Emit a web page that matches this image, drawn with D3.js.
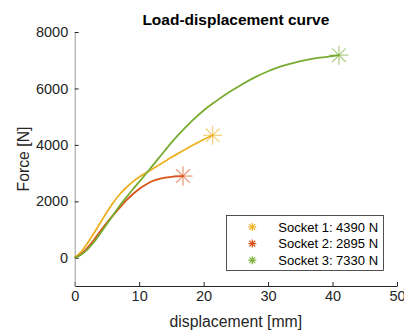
<!DOCTYPE html>
<html>
<head>
<meta charset="utf-8">
<script src="https://cdn.jsdelivr.net/npm/d3@7"></script>
<style>
body{margin:0;background:#fff;}
svg{display:block;font-family:"Liberation Sans",Arial,sans-serif;}
</style>
</head>
<body>
<svg id="chart" width="404" height="331"></svg>
<script>
// data
const socket1=[[0,0],[1,210],[2,520],[3,880],[4,1250],[5,1620],[6,1960],[7,2250],[8,2490],[9,2690],[10,2860],[11,3000],[12,3140],[13,3280],[14,3420],[15,3560],[16,3690],[17,3820],[18,3950],[19,4070],[20,4190],[21.4,4340]]
const socket2=[[0,0],[1,130],[2,360],[3,640],[4,950],[5,1250],[6,1520],[7,1780],[8,2030],[9,2250],[10,2440],[11,2590],[12,2710],[13,2790],[14,2840],[15,2870],[16,2885],[16.8,2895]]
const socket3=[[0,0],[1,110],[2,300],[3,560],[4,870],[5,1200],[6,1520],[7,1850],[8,2140],[9,2420],[10,2690],[11,2960],[12,3240],[13,3520],[14,3800],[15,4080],[16,4340],[17,4580],[18,4810],[19,5020],[20,5220],[22,5560],[24,5870],[26,6150],[28,6400],[30,6610],[32,6780],[34,6910],[36,7010],[38,7090],[40,7150],[41,7180]]
const legendLabels=['Socket 1: 4390 N','Socket 2: 2895 N','Socket 3: 7330 N']
const colors=['#EDB120','#D95319','#77AC30']
const xTicks=[0,10,20,30,40,50]
const yTicks=[0,2000,4000,6000,8000]

const series=[socket1,socket2,socket3]

const svg=d3.select('#chart')
const plot={left:74.7,right:397,top:32,bottom:286}

const x=d3.scaleLinear().domain([0,50]).range([plot.left,plot.right])
const y=d3.scaleLinear().domain([-1000,8000]).range([plot.bottom,plot.top])

// title
svg.append('text')
    .attr('x',(plot.left+plot.right)/2)
    .attr('y',24.5)
    .attr('text-anchor','middle')
    .attr('font-weight','bold')
    .attr('font-size',15.5)
    .attr('fill','#000')
    .text('Load-displacement curve')

// axes
const xAxis=d3.axisBottom(x).tickValues(xTicks).tickFormat(d3.format('d')).tickSizeInner(-4).tickSizeOuter(0).tickPadding(5)
const gx=svg.append('g').attr('transform',`translate(0,${plot.bottom})`).call(xAxis)
gx.select('.domain').attr('stroke','#262626')
gx.selectAll('.tick line').attr('stroke','#262626')
gx.selectAll('text').attr('font-size',14.5).attr('fill','#262626').attr('font-family','Liberation Sans, Arial, sans-serif')

const yAxis=d3.axisLeft(y).tickValues(yTicks).tickFormat(d3.format('d')).tickSizeInner(-4).tickSizeOuter(0).tickPadding(6.5)
const gy=svg.append('g').attr('transform',`translate(${plot.left},0)`).call(yAxis)
gy.select('.domain').attr('stroke','#9a9a9a')
gy.selectAll('.tick line').attr('stroke','#262626')
gy.selectAll('text').attr('font-size',14.5).attr('fill','#262626').attr('font-family','Liberation Sans, Arial, sans-serif')

// axis labels
svg.append('text')
    .attr('x',(plot.left+plot.right)/2)
    .attr('y',327)
    .attr('text-anchor','middle')
    .attr('font-size',15.8)
    .attr('fill','#262626')
    .text('displacement [mm]')

svg.append('text')
    .attr('transform',`translate(28.5,${(plot.top+plot.bottom)/2}) rotate(-90)`)
    .attr('text-anchor','middle')
    .attr('font-size',15.8)
    .attr('fill','#262626')
    .text('Force [N]')

// curves
const line=d3.line().x(d=>x(d[0])).y(d=>y(d[1])).curve(d3.curveMonotoneX)

svg.append('g').selectAll('path')
    .data(series)
    .join('path')
    .attr('d',line)
    .attr('fill','none')
    .attr('stroke',(d,i)=>colors[i])
    .attr('stroke-width',1.8)

function star(g,cx,cy,r,col,op){
    const s=g.append('g').attr('transform',`translate(${cx},${cy})`)
        .attr('stroke',col).attr('stroke-opacity',op).attr('stroke-width',1.2)
    const d=r*0.72
    s.append('line').attr('x1',-r).attr('x2',r).attr('y1',0).attr('y2',0)
    s.append('line').attr('x1',0).attr('x2',0).attr('y1',-r).attr('y2',r)
    s.append('line').attr('x1',-d).attr('x2',d).attr('y1',-d).attr('y2',d)
    s.append('line').attr('x1',-d).attr('x2',d).attr('y1',d).attr('y2',-d)
}

// end markers
const markers=svg.append('g')
series.forEach((s,i)=>{
    const last=s[s.length-1]
    star(markers,x(last[0]),y(last[1]),9.5,colors[i],0.6)
})

// legend
const lg=svg.append('g')
lg.append('rect')
    .attr('x',226.5).attr('y',215.5).attr('width',157).attr('height',55)
    .attr('fill','#fff').attr('stroke','#262626').attr('stroke-width',0.8)
legendLabels.forEach((t,i)=>{
    const yy=227+i*16.6
    star(lg,252.3,yy,4,colors[i],1)
    lg.append('text')
        .attr('x',278.3).attr('y',yy+4.6)
        .attr('font-size',13)
        .attr('fill','#000')
        .text(t)
})
</script>
</body>
</html>
